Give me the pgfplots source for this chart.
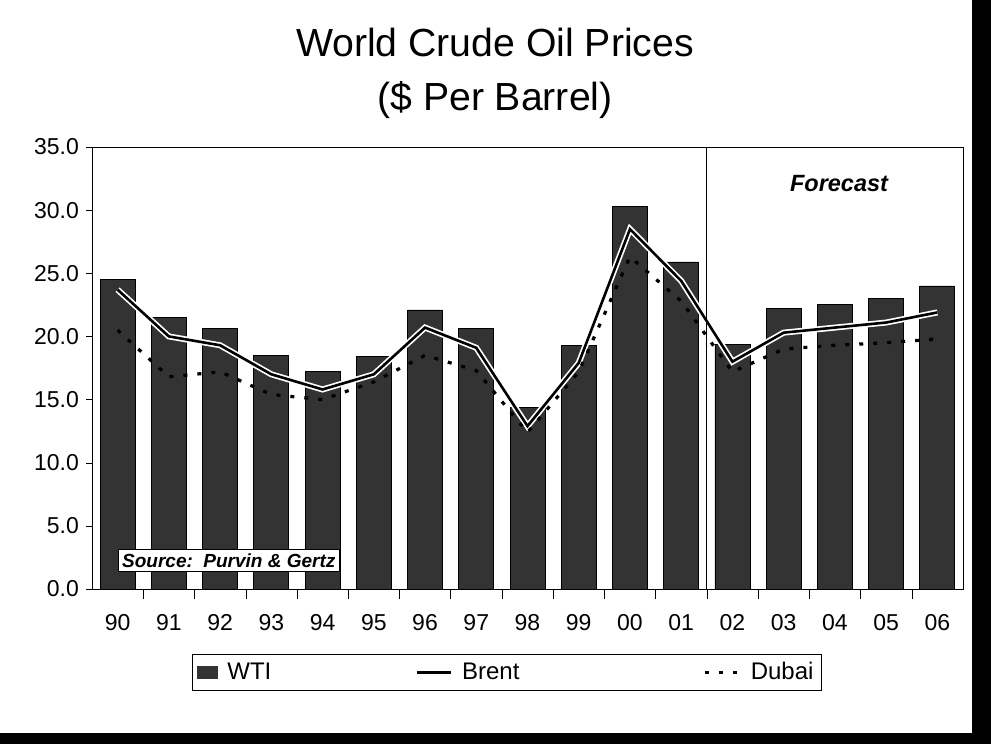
\documentclass[border=0pt]{standalone}
\usepackage{fontspec}
\setmainfont{Liberation Sans}
\usepackage{pgfplots}
\pgfplotsset{compat=1.18}
\begin{document}
\begin{tikzpicture}
\begin{axis}[
  scale only axis, width=435.5pt, height=221pt,
  xmin=-0.5, xmax=16.5, ymin=0, ymax=35,
  xtick={0,...,16},
  xticklabels={90,91,92,93,94,95,96,97,98,99,00,01,02,03,04,05,06},
  major x tick style={draw=none},
  minor xtick={0.5,1.5,...,15.5},
  minor tick length=5pt,
  tick align=outside,
  xtick pos=bottom, ytick pos=left,
  ytick={0,5,...,35},
  major tick length=3pt,
  y tick label style={/pgf/number format/.cd,fixed,fixed zerofill,precision=1,assume math mode=true},
  tick label style={font=\fontsize{11.5}{13}\selectfont},
  xticklabel style={yshift=-6pt},
  axis line style={black},
  tick style={black},
  legend columns=3,
  legend style={at={(0.4765,-0.189)}, anchor=center, draw=black,
    font=\fontsize{12}{14}\selectfont, inner sep=2pt,
    /tikz/every odd column/.append style={column sep=3pt},
    /tikz/column 2/.style={column sep=70pt},
    /tikz/column 4/.style={column sep=90pt}},
]
% WTI bars
\addplot[ybar, bar width=17.5pt, fill=black!80, draw=black,
  legend image code/.code={\fill[black!80] (0pt,-3pt) rectangle (10pt,3pt);}]
  coordinates {
  (0,24.5) (1,21.5) (2,20.6) (3,18.5) (4,17.2) (5,18.4) (6,22.1) (7,20.6)
  (8,14.4) (9,19.3) (10,30.3) (11,25.9) (12,19.4) (13,22.2) (14,22.5)
  (15,23.0) (16,24.0)
};
\addlegendentry{WTI}
% halo under Brent
\addplot[white, line width=3pt, forget plot] coordinates {
  (0,23.7) (1,20.0) (2,19.3) (3,17.0) (4,15.8) (5,17.0) (6,20.7) (7,19.1)
  (8,12.9) (9,17.9) (10,28.5) (11,24.4) (12,18.0) (13,20.3) (14,20.7)
  (15,21.1) (16,21.9)
};
\addplot[black, line width=1.3pt] coordinates {
  (0,23.7) (1,20.0) (2,19.3) (3,17.0) (4,15.8) (5,17.0) (6,20.7) (7,19.1)
  (8,12.9) (9,17.9) (10,28.5) (11,24.4) (12,18.0) (13,20.3) (14,20.7)
  (15,21.1) (16,21.9)
};
\addlegendentry{Brent}
\addplot[black, line width=1.6pt, dash pattern=on 2pt off 5pt] coordinates {
  (0,20.5) (1,16.8) (2,17.2) (3,15.4) (4,15.0) (5,16.4) (6,18.5) (7,17.3)
  (8,12.4) (9,17.2) (10,26.3) (11,22.8) (12,17.2) (13,19.0) (14,19.3)
  (15,19.5) (16,19.8)
};
\addlegendentry{Dubai}
\draw[black] (axis cs:11.5,0) -- (axis cs:11.5,35);
\node[font=\bfseries\itshape\fontsize{11.75}{13}\selectfont] at (axis cs:14.08,32.1) {Forecast};
\node[draw=black, fill=white, inner sep=2pt, font=\bfseries\itshape\fontsize{9.5}{11}\selectfont]
  at (axis cs:2.17,2.25) {Source:\ \ Purvin \& Gertz};
\end{axis}
\node[font=\fontsize{19.6}{22}\selectfont] at (201.5pt,273.5pt) {World Crude Oil Prices};
\node[font=\fontsize{19.6}{22}\selectfont] at (201.5pt,244.5pt) {(\$ Per Barrel)};
\fill[black] (440pt,-77.5pt) rectangle (449.5pt,294.5pt);
\fill[black] (-46pt,-77.5pt) rectangle (449.5pt,-72pt);
\pgfresetboundingbox
\useasboundingbox (-46pt,-77.5pt) rectangle (449.5pt,294.5pt);
\end{tikzpicture}
\end{document}
